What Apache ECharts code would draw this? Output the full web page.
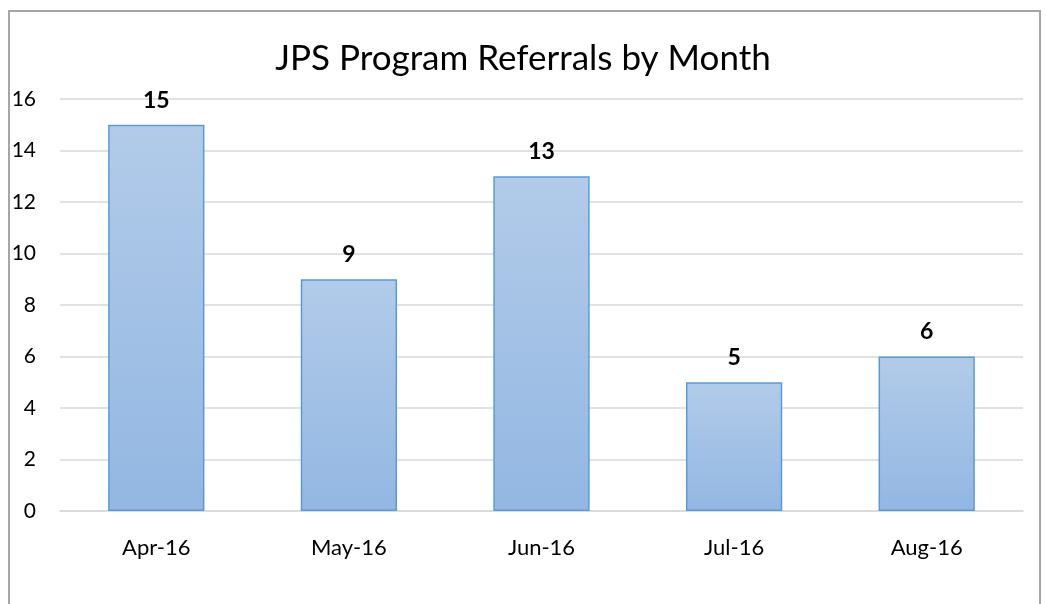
<!DOCTYPE html>
<html>
<head>
<meta charset="utf-8">
<title>JPS Program Referrals by Month</title>
<script src="https://cdn.jsdelivr.net/npm/echarts@6/dist/echarts.min.js"></script>
<style>
  html, body { margin: 0; padding: 0; background: #fff; }
  #chart { width: 1046px; height: 604px; }
</style>
</head>
<body>
<div id="chart"></div>
<script>
// months and referral counts
var months = ['Apr-16', 'May-16', 'Jun-16', 'Jul-16', 'Aug-16'];
var referrals = [15, 9, 13, 5, 6];
var yTicks = [0, 2, 4, 6, 8, 10, 12, 14, 16];

var chart = echarts.init(document.getElementById('chart'));
var font = 'Lato, "Open Sans", sans-serif';

chart.setOption({
    animation: false,
    graphic: [{
        type: 'rect',
        shape: { x: 9, y: 11, width: 1031, height: 620 },
        style: { fill: 'none', stroke: '#a6a6a6', lineWidth: 2 },
        silent: true
    }],
    title: {
        text: 'JPS Program Referrals by Month',
        left: 'center',
        top: 36,
        textStyle: { fontFamily: font, fontSize: 35, fontWeight: 'normal', color: '#000' }
    },
    grid: { left: 60, right: 23, top: 99, bottom: 93, containLabel: false },
    xAxis: {
        type: 'category',
        data: months,
        axisLine: { show: true, lineStyle: { color: '#d9d9d9', width: 1.5 } },
        axisTick: { show: false },
        axisLabel: { fontFamily: font, fontSize: 22, color: '#000', margin: 26 }
    },
    yAxis: {
        type: 'value',
        min: yTicks[0],
        max: yTicks[yTicks.length - 1],
        interval: 2,
        axisLine: { show: false },
        axisTick: { show: false },
        splitLine: { lineStyle: { color: '#d9d9d9', width: 1.5 } },
        axisLabel: { fontFamily: font, fontSize: 21, color: '#000', margin: 24 }
    },
    series: [{
        type: 'bar',
        data: referrals,
        barWidth: '50%',
        itemStyle: {
            color: new echarts.graphic.LinearGradient(0, 0, 0, 1, [
                { offset: 0, color: '#b2cbe9' },
                { offset: 1, color: '#93b7e2' }
            ]),
            borderColor: '#5b9bd5',
            borderWidth: 1.5
        },
        label: {
            show: true,
            position: 'top',
            distance: 13,
            fontFamily: font,
            fontSize: 23,
            fontWeight: 'bold',
            color: '#000'
        }
    }]
});
</script>
</body>
</html>
